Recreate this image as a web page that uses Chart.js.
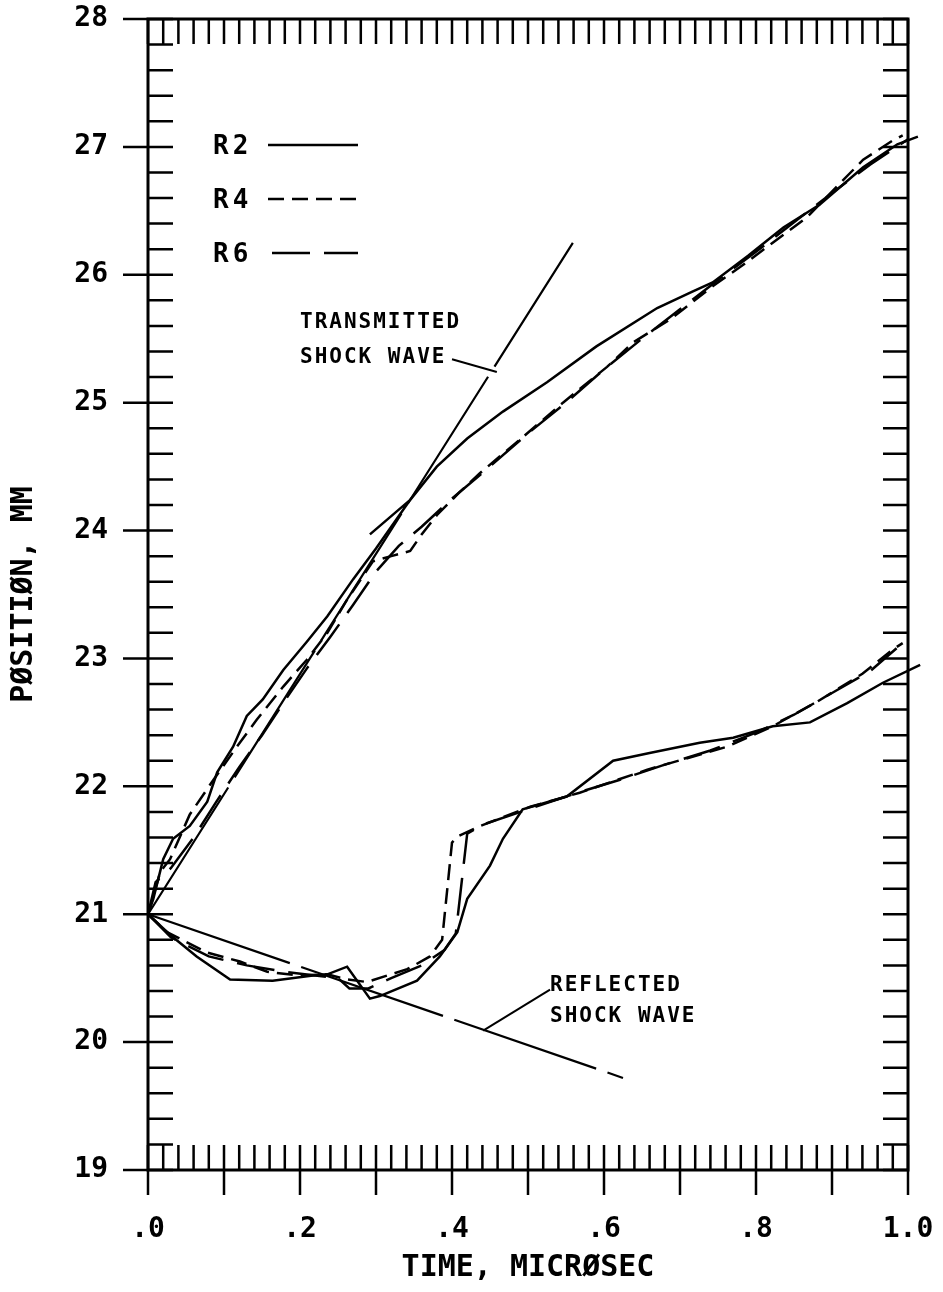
<!DOCTYPE html>
<html>
<head>
<meta charset="utf-8">
<script src="https://cdn.jsdelivr.net/npm/chart.js@4.4.0/dist/chart.umd.min.js"></script>
<style>
  html, body { margin: 0; padding: 0; background: #fff; }
  #wrap { width: 943px; height: 1292px; }
</style>
</head>
<body>
<div id="wrap"><canvas id="myChart"></canvas></div>
<script>
// time in microsec, position in mm

// upper (transmitted) branch
var r2UpT = [0, 0.007, 0.02, 0.033, 0.055, 0.078, 0.091, 0.112, 0.13, 0.151, 0.178, 0.209, 0.236, 0.27, 0.30, 0.345, 0.38, 0.42, 0.467, 0.525, 0.59, 0.67, 0.717, 0.743, 0.79, 0.836, 0.884, 0.941, 0.986, 1.013];
var r2UpP = [21.0, 21.12, 21.43, 21.59, 21.69, 21.88, 22.11, 22.31, 22.55, 22.68, 22.91, 23.13, 23.33, 23.62, 23.86, 24.24, 24.5, 24.72, 24.93, 25.16, 25.44, 25.74, 25.87, 25.94, 26.15, 26.37, 26.55, 26.84, 27.02, 27.08];
var r2StubT = [0.292, 0.345];
var r2StubP = [23.97, 24.24];

var r4UpT = [0, 0.007, 0.016, 0.029, 0.055, 0.086, 0.117, 0.143, 0.178, 0.209, 0.236, 0.262, 0.296, 0.32, 0.345, 0.36, 0.38, 0.41, 0.437, 0.493, 0.546, 0.604, 0.638, 0.687, 0.743, 0.779, 0.822, 0.867, 0.941, 0.98, 0.993];
var r4UpP = [21.0, 21.14, 21.33, 21.43, 21.78, 22.05, 22.31, 22.52, 22.78, 22.99, 23.2, 23.46, 23.76, 23.8, 23.84, 23.97, 24.12, 24.3, 24.45, 24.73, 25.0, 25.28, 25.47, 25.65, 25.91, 26.06, 26.25, 26.45, 26.9, 27.05, 27.09];

var r6UpT = [0, 0.01, 0.03, 0.06, 0.09, 0.12, 0.15, 0.18, 0.21, 0.24, 0.27, 0.30, 0.33, 0.36, 0.40, 0.44, 0.50, 0.55, 0.60, 0.65, 0.70, 0.75, 0.80, 0.85, 0.90, 0.95, 1.0];
var r6UpP = [21.0, 21.25, 21.36, 21.6, 21.88, 22.15, 22.4, 22.67, 22.93, 23.17, 23.42, 23.68, 23.88, 24.03, 24.25, 24.45, 24.76, 25.0, 25.26, 25.5, 25.73, 25.96, 26.18, 26.41, 26.64, 26.86, 27.06];

// lower (reflected) branch
var r2LoT = [0, 0.029, 0.064, 0.108, 0.164, 0.217, 0.236, 0.262, 0.292, 0.305, 0.354, 0.384, 0.407, 0.42, 0.45, 0.467, 0.493, 0.551, 0.612, 0.66, 0.726, 0.77, 0.822, 0.871, 0.92, 0.967, 1.016];
var r2LoP = [21.0, 20.84, 20.67, 20.49, 20.48, 20.52, 20.53, 20.59, 20.34, 20.36, 20.48, 20.67, 20.86, 21.12, 21.38, 21.59, 21.82, 21.92, 22.2, 22.26, 22.34, 22.38, 22.47, 22.5, 22.65, 22.81, 22.95];

var r4LoT = [0, 0.025, 0.078, 0.121, 0.157, 0.2, 0.236, 0.262, 0.288, 0.341, 0.371, 0.387, 0.4, 0.408, 0.437, 0.503, 0.568, 0.657, 0.762, 0.822, 0.88, 0.94, 0.98, 0.993];
var r4LoP = [21.0, 20.86, 20.7, 20.63, 20.55, 20.52, 20.53, 20.49, 20.47, 20.57, 20.67, 20.8, 21.56, 21.61, 21.69, 21.84, 21.95, 22.13, 22.31, 22.47, 22.66, 22.88, 23.07, 23.12];

var r6LoT = [0, 0.03, 0.08, 0.13, 0.18, 0.22, 0.25, 0.265, 0.29, 0.32, 0.36, 0.39, 0.405, 0.42, 0.44, 0.5, 0.56, 0.62, 0.68, 0.74, 0.8, 0.85, 0.9, 0.95, 0.985];
var r6LoP = [21.0, 20.82, 20.67, 20.6, 20.55, 20.52, 20.5, 20.42, 20.42, 20.5, 20.6, 20.72, 20.85, 21.63, 21.7, 21.82, 21.94, 22.05, 22.17, 22.28, 22.42, 22.56, 22.73, 22.9, 23.08];

// straight shock wave lines
var transT = [0, 0.559];
var transP = [21.0, 26.25];
var reflT = [0, 0.625];
var reflP = [21.0, 19.72];

// axis ticks
var xTickVals = [0, 0.2, 0.4, 0.6, 0.8, 1.0];
var xTickLabels = ['.0', '.2', '.4', '.6', '.8', '1.0'];
var yTickVals = [19, 20, 21, 22, 23, 24, 25, 26, 27, 28];

// annotation text (anchored in data units)
var transLabel = ['TRANSMITTED', 'SHOCK WAVE'];
var transLabelAt = [0.2, 25.63, 25.35];
var transLeader = [[0.4, 25.34], [0.459, 25.24]];
var reflLabel = ['REFLECTED', 'SHOCK WAVE'];
var reflLabelAt = [0.529, 20.44, 20.2];
var reflLeader = [[0.529, 20.41], [0.441, 20.09]];

var dashR4 = [16, 8];
var dashR6 = [38, 14];
var dashFit = [150, 12];
var mono = "'DejaVu Sans Mono', monospace";

function pts(t, p) {
    var out = [];
    for (var i = 0; i < t.length; i++) out.push({x: t[i], y: p[i]});
    return out;
}

function ds(label, data, dash, width) {
    return {
        label: label,
        data: data,
        showLine: true,
        borderColor: '#000',
        backgroundColor: '#000',
        borderWidth: width || 2.5,
        borderDash: dash,
        pointRadius: 0,
        tension: 0,
        clip: {left: 4, top: 4, right: 20, bottom: 4}
    };
}

var r2UpData = pts(r2StubT, r2StubP).concat([{x: 0.3, y: null}], pts(r2UpT, r2UpP));

var legendRows = [
    {label: 'R2', dash: [], x0: 268},
    {label: 'R4', dash: dashR4, x0: 268},
    {label: 'R6', dash: dashR6, x0: 272}
];

var plotterDecor = {
    id: 'plotterDecor',
    afterDatasetsDraw: function(chart) {
        var ctx = chart.ctx, a = chart.chartArea;
        var xs = chart.scales.x, ys = chart.scales.y;
        ctx.save();
        ctx.strokeStyle = '#000';
        ctx.fillStyle = '#000';
        ctx.lineWidth = 2.5;
        ctx.setLineDash([]);
        ctx.beginPath();
        for (var i = 0; i <= 50; i++) {
            var px = xs.getPixelForValue(i * 0.02);
            ctx.moveTo(px, a.bottom); ctx.lineTo(px, a.bottom - 25);
            ctx.moveTo(px, a.top); ctx.lineTo(px, a.top + 25);
            if (i % 5 === 0) { ctx.moveTo(px, a.bottom); ctx.lineTo(px, a.bottom + 25); }
        }
        for (var j = 0; j <= 45; j++) {
            var py = ys.getPixelForValue(19 + j * 0.2);
            ctx.moveTo(a.left, py); ctx.lineTo(a.left + 25, py);
            ctx.moveTo(a.right, py); ctx.lineTo(a.right - 25, py);
            if (j % 5 === 0) { ctx.moveTo(a.left - 25, py); ctx.lineTo(a.left, py); }
        }
        ctx.stroke();
        ctx.lineWidth = 3;
        ctx.strokeRect(a.left, a.top, a.right - a.left, a.bottom - a.top);

        // legend
        ctx.font = 'bold 26px ' + mono;
        ctx.textBaseline = 'middle';
        ctx.textAlign = 'left';
        ctx.letterSpacing = '4px';
        ctx.lineWidth = 2.5;
        legendRows.forEach(function(row, k) {
            var y = a.top + 128 + k * 54;
            ctx.fillText(row.label, a.left + 65, y);
            ctx.setLineDash(row.dash);
            ctx.beginPath();
            ctx.moveTo(row.x0, y - 2);
            ctx.lineTo(a.left + 210, y - 2);
            ctx.stroke();
        });
        ctx.setLineDash([]);

        // annotations
        ctx.font = 'bold 21px ' + mono;
        ctx.letterSpacing = '2px';
        function label(lines, at) {
            var x = xs.getPixelForValue(at[0]);
            ctx.fillText(lines[0], x, ys.getPixelForValue(at[1]));
            ctx.fillText(lines[1], x, ys.getPixelForValue(at[2]));
        }
        function leader(seg) {
            ctx.beginPath();
            ctx.moveTo(xs.getPixelForValue(seg[0][0]), ys.getPixelForValue(seg[0][1]));
            ctx.lineTo(xs.getPixelForValue(seg[1][0]), ys.getPixelForValue(seg[1][1]));
            ctx.stroke();
        }
        label(transLabel, transLabelAt);
        label(reflLabel, reflLabelAt);
        ctx.lineWidth = 2;
        leader(transLeader);
        leader(reflLeader);
        ctx.restore();
    }
};

var ctx = document.getElementById('myChart');

var chart = new Chart(ctx, {
    type: 'scatter',
    data: {
        datasets: [
            ds('R2', r2UpData, []),
            ds('R4', pts(r4UpT, r4UpP), dashR4),
            ds('R6', pts(r6UpT, r6UpP), dashR6),
            ds('R2 reflected', pts(r2LoT, r2LoP), []),
            ds('R4 reflected', pts(r4LoT, r4LoP), dashR4),
            ds('R6 reflected', pts(r6LoT, r6LoP), dashR6),
            ds('Transmitted shock wave', pts(transT, transP), dashFit, 2.2),
            ds('Reflected shock wave', pts(reflT, reflP), dashFit, 2.2)
        ]
    },
    options: {
        responsive: true,
        maintainAspectRatio: false,
        animation: false,
        layout: { padding: { top: 19, right: 35, left: 0, bottom: 0 } },
        plugins: { legend: { display: false }, tooltip: { enabled: false } },
        scales: {
            x: {
                type: 'linear',
                min: 0,
                max: 1,
                afterFit: function(scale) { scale.height = 122; },
                afterBuildTicks: function(scale) {
                    scale.ticks = xTickVals.map(function(v) { return {value: v}; });
                },
                // tickLength only offsets the labels; the marks come from the plugin
                grid: { display: false, drawTicks: true, tickLength: 43 },
                border: { display: false },
                ticks: {
                    autoSkip: false,
                    maxRotation: 0,
                    padding: 0,
                    color: '#000',
                    font: { family: mono, size: 28, weight: 'bold' },
                    callback: function(v) {
                        var k = xTickVals.indexOf(Math.round(v * 10) / 10);
                        return k >= 0 ? xTickLabels[k] : '';
                    }
                },
                title: {
                    display: true,
                    text: 'TIME, MICRØSEC',
                    color: '#000',
                    font: { family: mono, size: 30, weight: 'bold' },
                    padding: { top: 0, bottom: 6 }
                }
            },
            y: {
                type: 'linear',
                min: 19,
                max: 28,
                afterFit: function(scale) { scale.width = 148; },
                afterBuildTicks: function(scale) {
                    scale.ticks = yTickVals.map(function(v) { return {value: v}; });
                },
                grid: { display: false, drawTicks: true, tickLength: 40 },
                border: { display: false },
                ticks: {
                    padding: 0,
                    color: '#000',
                    font: { family: mono, size: 28, weight: 'bold' }
                },
                title: {
                    display: true,
                    text: 'PØSITIØN, MM',
                    color: '#000',
                    font: { family: mono, size: 30, weight: 'bold' },
                    padding: { top: 6, bottom: 0 }
                }
            }
        }
    },
    plugins: [plotterDecor]
});
</script>
</body>
</html>
